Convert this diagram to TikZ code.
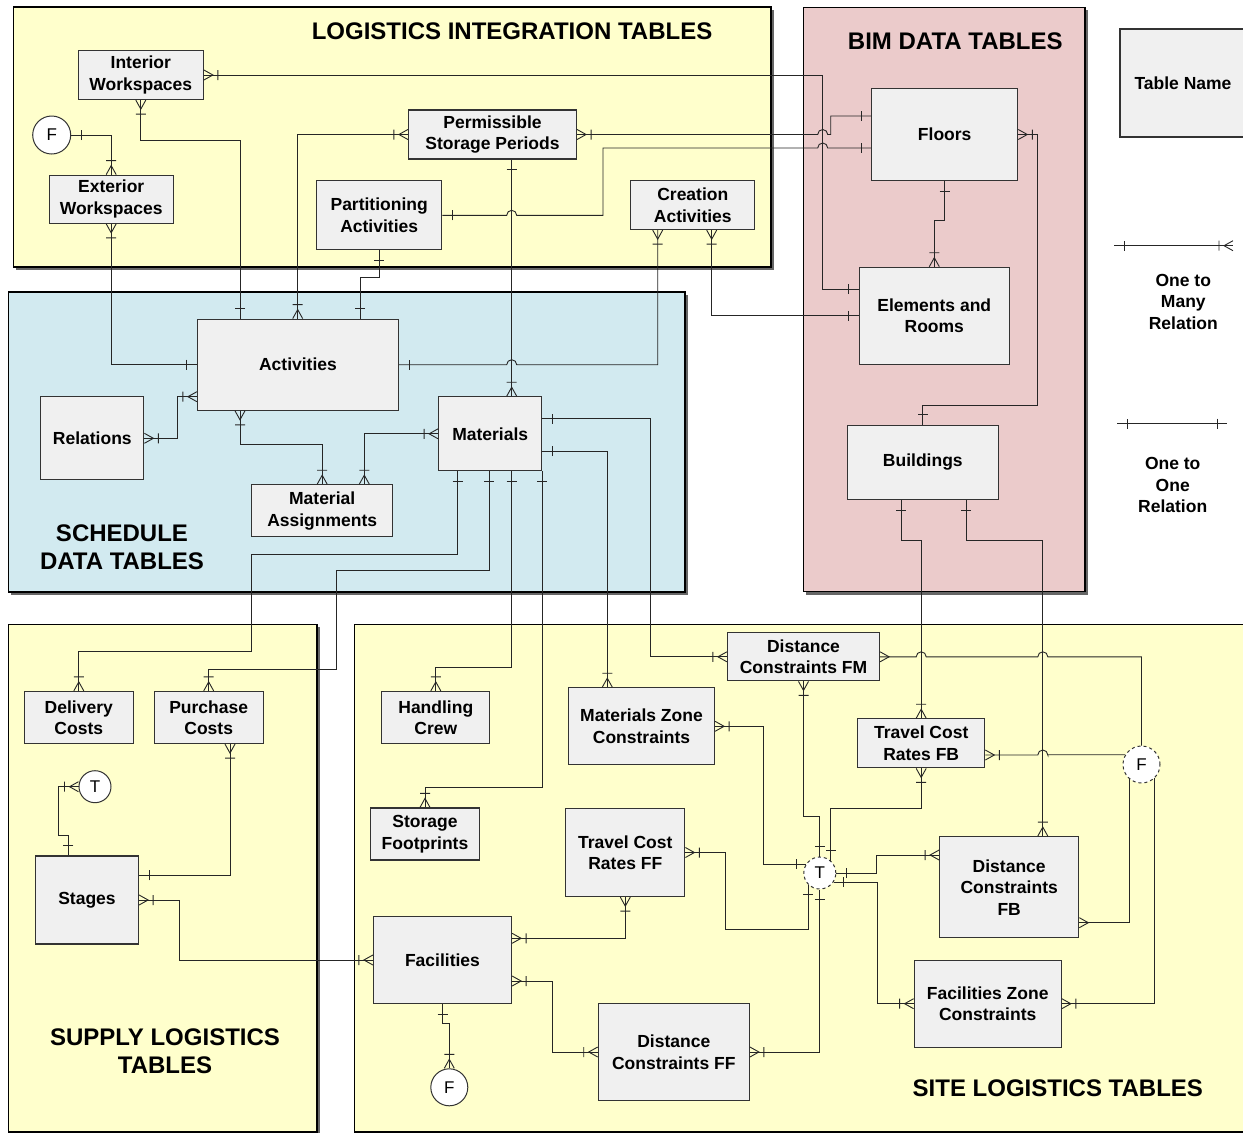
\documentclass[tikz,border=0pt]{standalone}
\usepackage{fontspec}
\setmainfont{Liberation Sans}
\usetikzlibrary{shadows}

\definecolor{logyellow}{HTML}{FFFFCC}
\definecolor{schedblue}{HTML}{D2EAF0}
\definecolor{bimpink}{HTML}{EBCBCB}
\definecolor{tblgray}{HTML}{F0F0F0}

\newcommand{\lblfont}{\fontsize{17.5}{21.5}\selectfont\bfseries}
\newcommand{\ttlfont}{\fontsize{24}{28.5}\selectfont\bfseries}

\pgfdeclarearrow{
  name=many,
  setup code={
    \pgfarrowssettipend{0pt}
    \pgfarrowssetlineend{0pt}
    \pgfarrowssetbackend{-15pt}
    \pgfarrowshullpoint{0pt}{5pt}
    \pgfarrowshullpoint{0pt}{-5pt}
    \pgfarrowshullpoint{-15pt}{5pt}
    \pgfarrowshullpoint{-15pt}{-5pt}
  },
  drawing code={
    \pgfpathmoveto{\pgfqpoint{0pt}{5pt}}
    \pgfpathlineto{\pgfqpoint{-9pt}{0pt}}
    \pgfpathlineto{\pgfqpoint{0pt}{-5pt}}
    \pgfpathmoveto{\pgfqpoint{-14pt}{5pt}}
    \pgfpathlineto{\pgfqpoint{-14pt}{-5pt}}
    \pgfusepathqstroke
  }
}
\pgfdeclarearrow{
  name=crow,
  setup code={
    \pgfarrowssettipend{0pt}
    \pgfarrowssetlineend{0pt}
    \pgfarrowssetbackend{-9pt}
    \pgfarrowshullpoint{0pt}{5pt}
    \pgfarrowshullpoint{0pt}{-5pt}
    \pgfarrowshullpoint{-9pt}{0pt}
  },
  drawing code={
    \pgfpathmoveto{\pgfqpoint{0pt}{5pt}}
    \pgfpathlineto{\pgfqpoint{-9pt}{0pt}}
    \pgfpathlineto{\pgfqpoint{0pt}{-5pt}}
    \pgfusepathqstroke
  }
}
\pgfdeclarearrow{
  name=one,
  setup code={
    \pgfarrowssettipend{0pt}
    \pgfarrowssetlineend{0pt}
    \pgfarrowssetbackend{-10pt}
    \pgfarrowshullpoint{0pt}{0pt}
    \pgfarrowshullpoint{-10pt}{5pt}
    \pgfarrowshullpoint{-10pt}{-5pt}
  },
  drawing code={
    \pgfpathmoveto{\pgfqpoint{-10pt}{5pt}}
    \pgfpathlineto{\pgfqpoint{-10pt}{-5pt}}
    \pgfusepathqstroke
  }
}

\tikzstyle{panel} = [draw=black, line width=1.6pt, drop shadow={shadow xshift=3pt, shadow yshift=-3pt, fill=black!60, opacity=1}]
\tikzstyle{tbl} = [rectangle, draw=black!80, line width=1.2pt, fill=tblgray, align=center, inner sep=0pt, font=\lblfont]
\tikzstyle{ent} = [circle, draw=black!80, line width=1pt, fill=white, inner sep=0pt, font=\fontsize{17}{20}\selectfont]
\tikzstyle{grouptitle} = [align=center, inner sep=0pt, font=\ttlfont]
\tikzstyle{legtext} = [align=center, inner sep=0pt, font=\lblfont]
\tikzstyle{relline} = [draw=black!85, line width=0.9pt]

\begin{document}
\begin{tikzpicture}[x=1pt, y=-1pt]
\useasboundingbox (0,0) rectangle (1243,1133);

\draw[panel, fill=logyellow] (13.3,6.7) rectangle (771,266.7);
\draw[panel, fill=bimpink] (803.3,7.3) rectangle (1085,591.5);
\draw[panel, fill=schedblue] (8.3,291.7) rectangle (685,591.7);
\draw[panel, fill=logyellow] (8.3,624.3) rectangle (316.7,1131.7);
\draw[panel, fill=logyellow] (354.3,624.3) rectangle (1250,1131.7);

\node (ttllog) [grouptitle] at (512,31) {LOGISTICS INTEGRATION TABLES};
\node (ttlbim) [grouptitle] at (955.3,41.7) {BIM DATA TABLES};
\node (ttlsch) [grouptitle] at (122,547) {SCHEDULE\\DATA TABLES};
\node (ttlsup) [grouptitle] at (165,1051) {SUPPLY LOGISTICS\\TABLES};
\node (ttlsit) [grouptitle] at (1057.8,1088.3) {SITE LOGISTICS TABLES};

\node (iws) [tbl, minimum width=125pt, minimum height=49pt] at (140.8,75) {Interior\\Workspaces};
\node (ews) [tbl, minimum width=124pt, minimum height=48pt] at (111.2,199.2) {Exterior\\Workspaces};
\node (ftop) [ent, minimum size=38pt] at (51.7,135) {F};
\node (psp) [tbl, minimum width=168pt, minimum height=49pt] at (492.5,134.5) {Permissible\\Storage Periods};
\node (prt) [tbl, minimum width=125pt, minimum height=69pt] at (379.2,215.3) {Partitioning\\Activities};
\node (cra) [tbl, minimum width=124pt, minimum height=49pt] at (692.8,205) {Creation\\Activities};
\node (flr) [tbl, minimum width=146pt, minimum height=92pt] at (944.7,134.5) {Floors};
\node (elr) [tbl, minimum width=150pt, minimum height=97pt] at (934.3,315.8) {Elements and\\Rooms};
\node (bld) [tbl, minimum width=151pt, minimum height=74pt] at (922.8,462.5) {Buildings};
\node (legtbl) [tbl, minimum width=126pt, minimum height=108pt] at (1183,83) {Table Name};
\node (act) [tbl, minimum width=201pt, minimum height=91pt] at (298,364.7) {Activities};
\node (rel) [tbl, minimum width=103pt, minimum height=83pt] at (92.3,438.3) {Relations};
\node (mat) [tbl, minimum width=103pt, minimum height=74pt] at (490.2,433.8) {Materials};
\node (mas) [tbl, minimum width=141pt, minimum height=52pt] at (322.2,510.8) {Material\\Assignments};
\node (dlc) [tbl, minimum width=109pt, minimum height=52pt] at (78.8,717.5) {Delivery\\Costs};
\node (pcc) [tbl, minimum width=109pt, minimum height=52pt] at (208.7,717.5) {Purchase\\Costs};
\node (tsup) [ent, minimum size=32pt] at (95,786.7) {T};
\node (stg) [tbl, minimum width=103pt, minimum height=88pt] at (87,900) {Stages};
\node (hcr) [tbl, minimum width=108pt, minimum height=52pt] at (435.8,717.5) {Handling\\Crew};
\node (sfp) [tbl, minimum width=109pt, minimum height=52pt] at (425,834) {Storage\\Footprints};
\node (mzc) [tbl, minimum width=146pt, minimum height=77pt] at (641.5,726.3) {Materials Zone\\Constraints};
\node (dfm) [tbl, minimum width=152pt, minimum height=48pt] at (803.5,656.8) {Distance\\Constraints FM};
\node (tfb) [tbl, minimum width=127pt, minimum height=49pt] at (921.2,743.3) {Travel Cost\\Rates FB};
\node (fdash) [ent, dashed, minimum size=37pt] at (1141.5,764.5) {F};
\node (tff) [tbl, minimum width=119pt, minimum height=88pt] at (625.3,852.5) {Travel Cost\\Rates FF};
\node (tdash) [ent, dashed, minimum size=32pt] at (819.8,873) {T};
\node (dfb) [tbl, minimum width=139pt, minimum height=101pt] at (1009.2,887.2) {Distance\\Constraints\\FB};
\node (fac) [tbl, minimum width=138pt, minimum height=87pt] at (442.5,960) {Facilities};
\node (fzc) [tbl, minimum width=147pt, minimum height=87pt] at (987.7,1003.7) {Facilities Zone\\Constraints};
\node (dff) [tbl, minimum width=151pt, minimum height=97pt] at (673.8,1052) {Distance\\Constraints FF};
\node (fbot) [ent, minimum size=37pt] at (449.3,1087.3) {F};

\node (legmany) [legtext] at (1183.3,301.7) {One to\\Many\\Relation};
\node (legone) [legtext] at (1172.7,485.3) {One to\\One\\Relation};
\coordinate (lga) at (1114,245.7);
\coordinate (lgb) at (1233,245.7);
\coordinate (lgc) at (1117,423.7);
\coordinate (lgd) at (1227,423.7);

\draw[relline, many-one] (iws.east) -- (822.7,75) |- (elr.west |- 0,289);
\draw[relline, many-one] (psp.east) -- (817.7,134.5) arc[start angle=180, end angle=360, radius=5] -- (830.7,134.5) |- (flr.west |- 0,116);
\draw[relline, one-one] (prt.east) -- (506.7,215.3) arc[start angle=180, end angle=360, radius=5] -- (603,215.3) |- (817.7,148) arc[start angle=180, end angle=360, radius=5] -- (flr.west |- 0,148);
\draw[relline, many-many] (act.north -| 297.7,0) |- (psp.west);
\draw[relline, one-many] (psp.south -| 511.7,0) -- (mat.north -| 511.7,0);
\draw[relline, many-one] (iws.south) |- (240,140) -- (act.north -| 240,0);
\draw[relline, one-many] (ftop.east) -| (ews.north);
\draw[relline, many-one] (ews.south) |- (act.west);
\draw[relline, one-one] (prt.south) -- (379.2,277) -| (act.north -| 360,0);
\draw[relline, many-one] (cra.south -| 657.7,0) |- (516.7,364.7) arc[start angle=0, end angle=-180, radius=5] -- (act.east);
\draw[relline, many-one] (cra.south -| 711.7,0) |- (elr.west);
\draw[relline, one-many] (flr.south) -- (944.7,220.7) -| (elr.north);
\draw[relline, many-one] (flr.east) -| (1037.7,405) -| (bld.north);
\draw[relline, one-many] (bld.south -| 901,0) -- (901,540) -| (tfb.north);
\draw[relline, one-many] (bld.south -| 966,0) -- (966,540) -| (dfb.north -| 1042.8,0);

\draw[relline, many-many] (rel.east) -| (177.7,396.7) -- (act.west |- 0,396.7);
\draw[relline, many-many] (act.south -| 240,0) -- (240,444.3) -| (mas.north);
\draw[relline, many-many] (mat.west) -| (mas.north -| 364.3,0);
\draw[relline, one-many] (mat.east |- 0,418.7) -| (650.7,656.8) -- (dfm.west);
\draw[relline, one-many] (mat.east |- 0,451) -| (mzc.north -| 607.3,0);
\draw[relline, one-many] (mat.south -| 457.7,0) |- (251.7,554.3) |- (78.8,651) -- (dlc.north);
\draw[relline, one-many] (mat.south -| 489.3,0) |- (336,570) |- (208.7,669.3) -- (pcc.north);
\draw[relline, one-many] (mat.south -| 511.7,0) |- (435.8,667.3) -- (hcr.north);
\draw[relline, one-many] (mat.south east) |- (425,787.7) -- (sfp.north);

\draw[relline, many-one] (pcc.south -| 230,0) |- (stg.east |- 0,875.3);
\draw[relline, many-one] (tsup.west) -| (58.3,835.7) -| (stg.north -| 68.3,0);
\draw[relline, many-many] (stg.east) -| (179,960) -- (fac.west);

\draw[relline, many-many] (fac.east |- 0,938.3) -| (tff.south);
\draw[relline, many-many] (fac.east |- 0,981) -| (552,1052) -- (dff.west);
\draw[relline, one-many] (fac.south) -- (442.5,1023.3) -| (fbot.north);
\draw[relline, many-one] (dff.east) -| (tdash.south);
\draw[relline, many-one] (tff.east) -| (725.7,929.3) -| (tdash.225);
\draw[relline, many-one] (dfm.south) |- (819.8,816.7) -- (tdash.north);
\draw[relline, many-one] (tfb.south) -- (921.2,808.3) -| (tdash.48);
\draw[relline, many-one] (mzc.east) -- (763.4,726.3) |- (tdash.147);
\draw[relline, one-many] (tdash.east) -| (876.6,855) -- (dfb.west |- 0,855);
\draw[relline, one-many] (tdash.327) -| (877,1003.7) -- (fzc.west);

\draw[relline, crow-] (dfm.east) -- (916.2,656.8) arc[start angle=180, end angle=360, radius=5] -- (1037.8,656.8) arc[start angle=180, end angle=360, radius=5] -| (fdash.north);
\draw[relline, many-] (tfb.east |- 0,755) -- (1037.8,755) arc[start angle=180, end angle=360, radius=5] |- (fdash.149);
\draw[relline, -crow] (fdash.232) |- (dfb.east |- 0,922.7);
\draw[relline, -many] (fdash.314) |- (fzc.east);

\draw[relline, one-many] (lga) -- (lgb);
\draw[relline, one-one] (lgc) -- (lgd);
\end{tikzpicture}
\end{document}
